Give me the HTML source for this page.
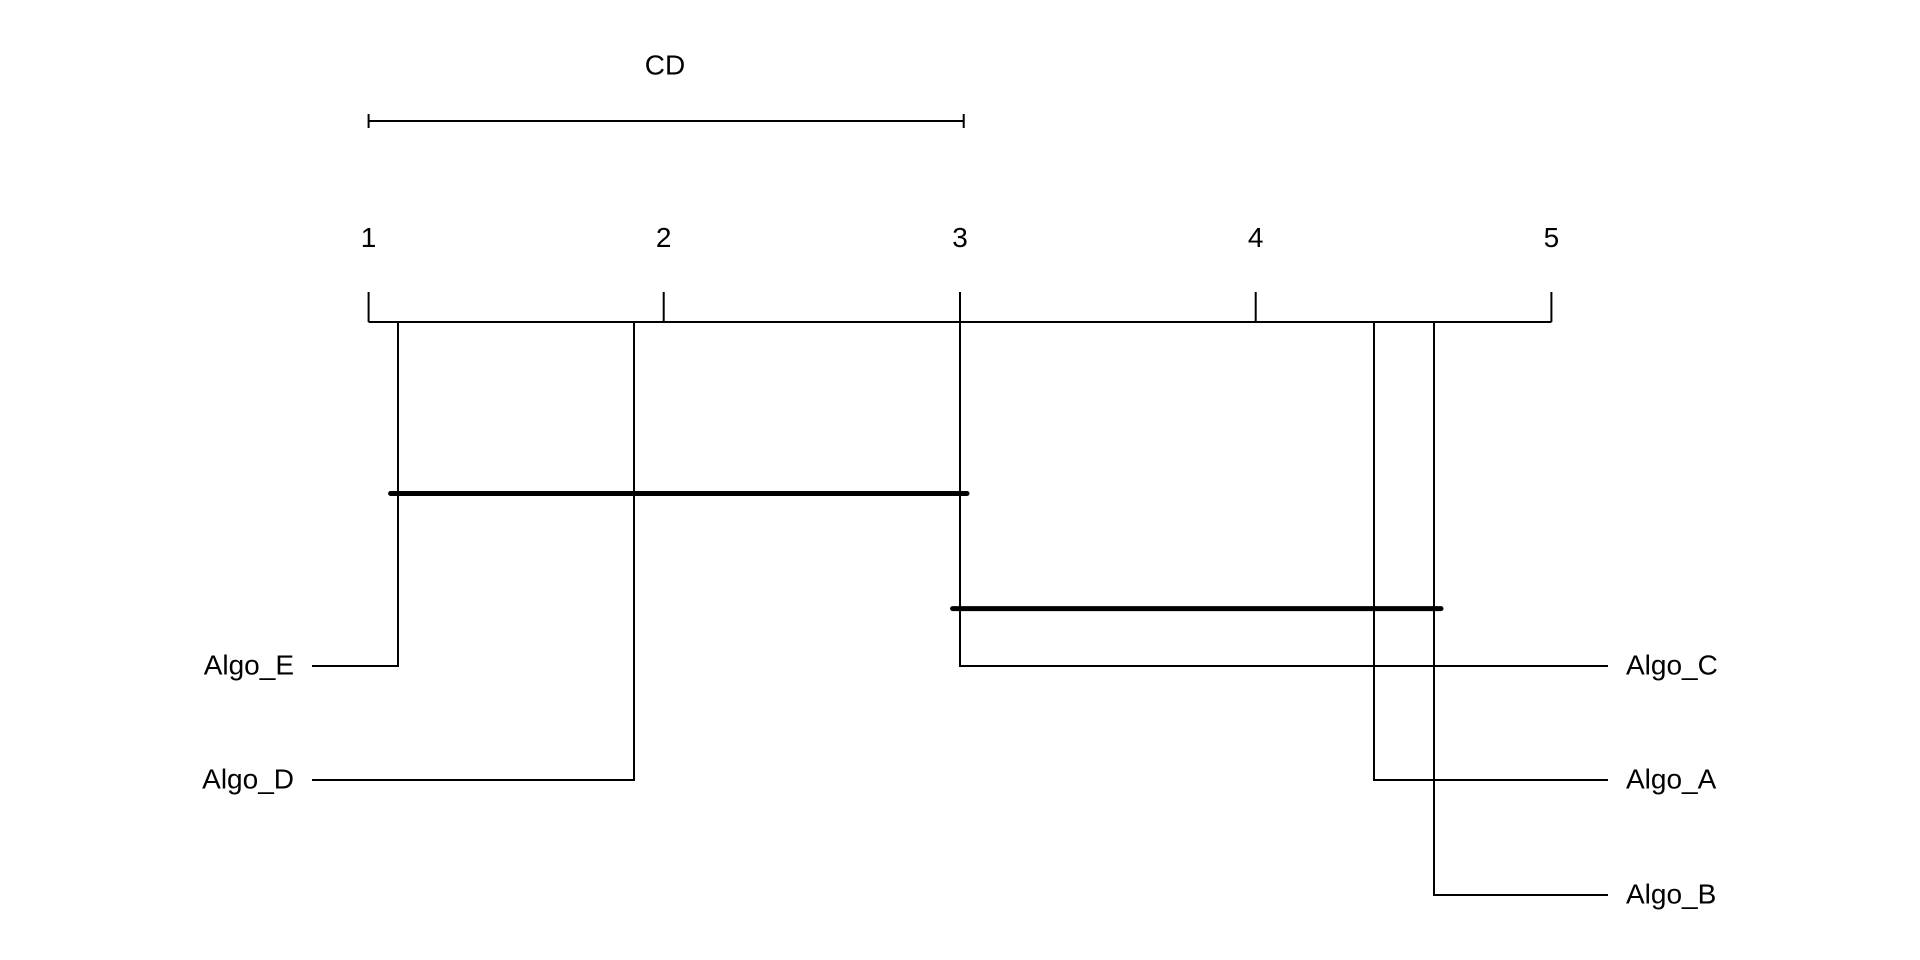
<!DOCTYPE html>
<html><head><style>html,body{margin:0;padding:0;background:#fff}svg{display:block}</style></head>
<body>
<svg width="1920" height="960" viewBox="0 0 1920 960" xmlns="http://www.w3.org/2000/svg" font-family="Liberation Sans, sans-serif" font-size="28" fill="#000">
<g stroke="#000" stroke-width="2" fill="none">
<line x1="368.6" y1="121" x2="963.7" y2="121"/>
<line x1="368.6" y1="114" x2="368.6" y2="128"/>
<line x1="963.7" y1="114" x2="963.7" y2="128"/>
<line x1="368.6" y1="322" x2="1551.4" y2="322"/>
<line x1="368.6" y1="292" x2="368.6" y2="322"/>
<line x1="663.7" y1="292" x2="663.7" y2="322"/>
<line x1="960" y1="292" x2="960" y2="322"/>
<line x1="1255.7" y1="292" x2="1255.7" y2="322"/>
<line x1="1551.4" y1="292" x2="1551.4" y2="322"/>
<polyline points="398,322 398,666 312,666"/>
<polyline points="634,322 634,780 312,780"/>
<polyline points="960,322 960,666 1608,666"/>
<polyline points="1374,322 1374,780 1608,780"/>
<polyline points="1434,322 1434,895 1608,895"/>
</g>
<g stroke="#000" stroke-width="5" stroke-linecap="round">
<line x1="390.6" y1="493.5" x2="967" y2="493.5"/>
<line x1="952.6" y1="608.6" x2="1441" y2="608.6"/>
</g>
<g text-anchor="middle" dominant-baseline="central">
<text x="665" y="65">CD</text>
<text x="368.6" y="237.5">1</text>
<text x="663.7" y="237.5">2</text>
<text x="960" y="237.5">3</text>
<text x="1255.7" y="237.5">4</text>
<text x="1551.4" y="237.5">5</text>
</g>
<g text-anchor="end" dominant-baseline="central">
<text x="294" y="665">Algo_E</text>
<text x="294" y="779">Algo_D</text>
</g>
<g dominant-baseline="central">
<text x="1626" y="665">Algo_C</text>
<text x="1626" y="779">Algo_A</text>
<text x="1626" y="894">Algo_B</text>
</g>
</svg>
</body></html>
